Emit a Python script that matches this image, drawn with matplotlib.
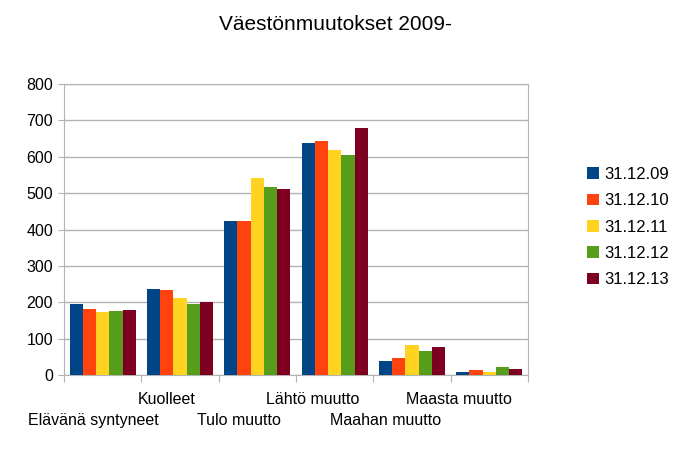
import numpy as np
import matplotlib.pyplot as plt

plt.rcParams['font.family'] = ['Liberation Sans', 'DejaVu Sans']

categories = ["Elävänä syntyneet", "Kuolleet", "Tulo muutto",
              "Lähtö muutto", "Maahan muutto", "Maasta muutto"]
series = ["31.12.09", "31.12.10", "31.12.11", "31.12.12", "31.12.13"]
values = [
    [195, 237, 424, 639, 39, 8],   # 31.12.09
    [182, 234, 424, 644, 48, 14],  # 31.12.10
    [174, 212, 542, 619, 83, 8],   # 31.12.11
    [177, 196, 517, 606, 66, 22],  # 31.12.12
    [180, 202, 510, 680, 77, 17],  # 31.12.13
]
colors = ["#004586", "#ff420e", "#ffd320", "#579d1c", "#7e0021"]

fig = plt.figure(figsize=(7, 4.62), dpi=100)
ax = fig.add_axes([64 / 700, 87 / 462, 464 / 700, 291 / 462])

x = np.arange(len(categories))
bw = 0.171
for i, (name, vals) in enumerate(zip(series, values)):
    ax.bar(x + (i - 2) * bw, vals, width=bw, color=colors[i], label=name, zorder=3)

ax.set_xlim(-0.5, len(categories) - 0.5)
ax.set_ylim(0, 800)
ax.set_yticks(range(0, 801, 100))
ax.yaxis.grid(True, color="#b3b3b3", lw=1, zorder=0)
ax.tick_params(axis="y", labelsize=11.5, length=4, color="#b3b3b3", pad=4)
ax.set_xticks(np.arange(-0.5, len(categories), 1.0))
ax.set_xticklabels([])
ax.tick_params(axis="x", length=5, color="#b3b3b3")
for s in ax.spines.values():
    s.set_color("#b3b3b3")

# staggered category labels
for i, cat in enumerate(categories):
    lx = -0.123 + 0.945 * i
    ly = -0.085 if i % 2 else -0.155
    ax.text(lx, ly, cat, transform=ax.get_xaxis_transform(), ha="center",
            va="center", fontsize=11.5)

fig.text(335 / 700, 1 - 24 / 462, "Väestönmuutokset 2009-", ha="center",
         va="center", fontsize=15)

ax.legend(loc="center left", bbox_to_anchor=(572 / 700, 1 - 227 / 462),
          bbox_transform=fig.transFigure, frameon=False, fontsize=12,
          handlelength=0.7, handleheight=0.7, handletextpad=0.35,
          labelspacing=0.68)

fig.savefig("out.png", dpi=100)
